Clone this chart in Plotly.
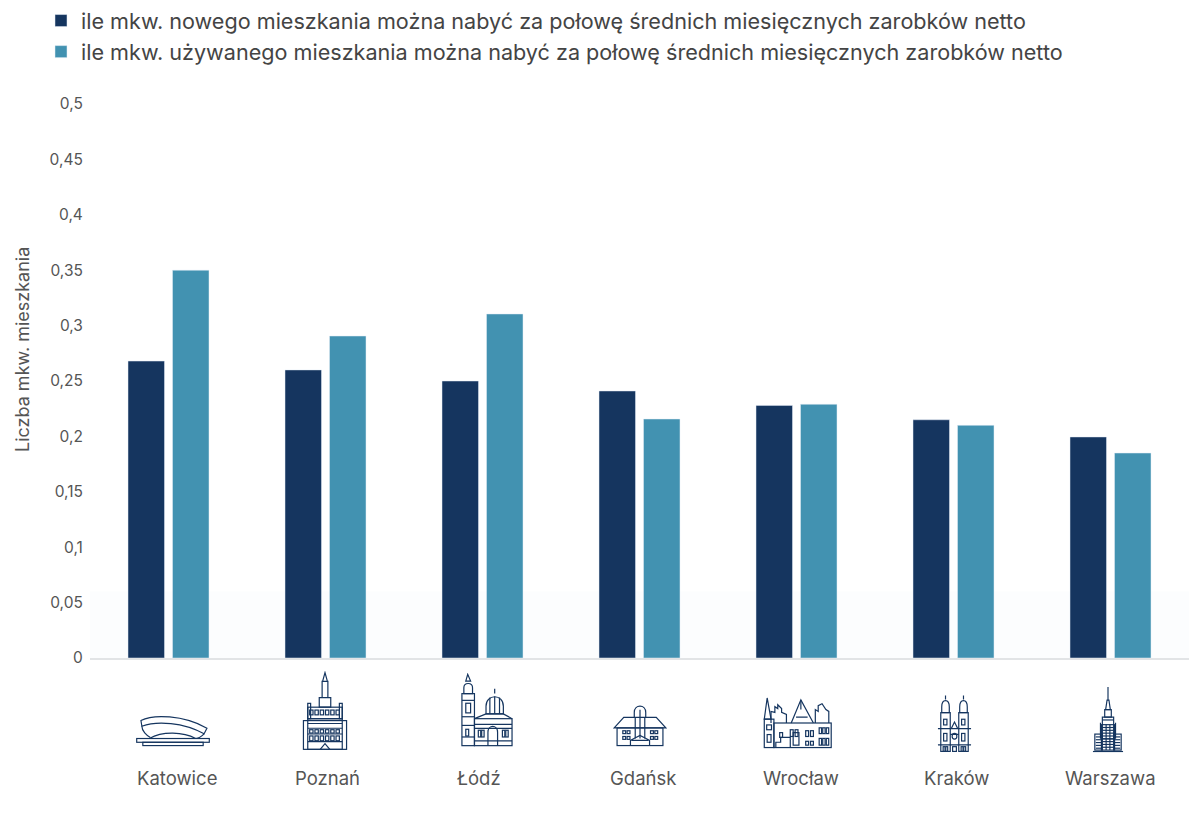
import base64
import plotly.graph_objects as go

cities = ["Katowice", "Poznań", "Łódź", "Gdańsk", "Wrocław", "Kraków", "Warszawa"]
new_flat = [0.268, 0.26, 0.25, 0.241, 0.228, 0.215, 0.1995]
used_flat = [0.35, 0.2906, 0.3105, 0.2157, 0.229, 0.21, 0.185]
y_ticks = [0, 0.05, 0.1, 0.15, 0.2, 0.25, 0.3, 0.35, 0.4, 0.45, 0.5]
y_labels = ["0", "0,05", "0,1", "0,15", "0,2", "0,25", "0,3", "0,35", "0,4", "0,45", "0,5"]
name_new = "ile mkw. nowego mieszkania można nabyć za połowę średnich miesięcznych zarobków netto"
name_used = "ile mkw. używanego mieszkania można nabyć za połowę średnich miesięcznych zarobków netto"
y_title = "Liczba mkw. mieszkania"
label_shift = [8, 2, -4, 3, 4, 3, 0]

W, H = 1200, 813
L, R, T, B = 90, 1189, 104, 658
DARK, TEAL, TXT = "#15355f", "#4292b1", "#555555"
FONT = "Inter"


def windows(x0, y0, n, m, w, h, dx, dy):
    return "".join(
        f'<rect x="{x0+i*dx}" y="{y0+j*dy}" width="{w}" height="{h}"/>'
        for i in range(n) for j in range(m))


def hlines(x0, x1, ys):
    return "".join(f'<path d="M{x0},{y}H{x1}"/>' for y in ys)


ICONS = {
    "kat": ((134, 714, 212, 747),
            '<path d="M5,6C18,-1 50,0 75,14L72,20C50,8 22,6 6,12Z"/>'
            '<path d="M6,12C6,17 11,22 15,24M72,20C69,23 65,25 62,25"/>'
            '<path d="M14,25C28,17 50,18 63,25"/>'
            '<rect x="0.5" y="25" width="77" height="4"/><rect x="7" y="29" width="64" height="3.5"/>'),
    "poz": ((302, 671, 348, 752),
            '<path d="M23,0L20.5,9H25.5ZM20,9H26V26H20ZM17,26H29V36H17Z"/>'
            '<rect x="5" y="36" width="36" height="12"/><rect x="5" y="32" width="3" height="16"/>'
            '<rect x="38" y="32" width="3" height="16"/><rect x="0.5" y="50" width="45" height="30"/>'
            '<rect x="5" y="48" width="36" height="32"/>' + hlines(5, 41, [53, 58, 64, 72])
            + windows(7, 59.5, 6, 1, 3.5, 3.5, 5.5, 0) + windows(7, 66, 6, 1, 3.5, 5, 5.5, 0)
            + windows(7, 39, 6, 1, 3.5, 5, 5.5, 0) + '<path d="M18,80L23,74L28,80"/>'),
    "lod": ((460, 673, 513, 747),
            '<path d="M7,0L5,7H10Z"/><path d="M3,14C3,8 12,8 12,14V20H3Z"/>'
            '<rect x="1" y="20" width="13" height="54"/>' + hlines(1, 14, [27, 44, 53, 65])
            + '<rect x="5" y="30" width="5" height="10"/>'
            '<path d="M26,33C26,20 44,20 44,33V41H26Z"/><path d="M35,20V15M30,24V41M35,23V41M40,24V41"/>'
            '<rect x="14" y="46" width="39" height="28"/><path d="M14,46L26,41H44L53,46"/>'
            + hlines(14, 53, [52, 56, 69]) + windows(18, 58, 2, 1, 2.5, 7, 3.5, 0)
            + windows(43, 58, 2, 1, 2.5, 7, 3.5, 0) + windows(5, 57, 1, 1, 3, 7, 0, 0)
            + '<path d="M28,74V60C28,52 38,52 38,60V74"/>'),
    "gda": ((613, 704, 667, 747),
            '<path d="M0,24L10,13H44L54,24Z"/><path d="M21,13V8C21,-1 33,-1 33,8V13"/>'
            '<path d="M22,13V35M27,5V35M32,13V35"/><rect x="3" y="24" width="48" height="18.5"/>'
            '<path d="M17,42V37L27,32L37,37V42M18,37H36"/>'
            + windows(9, 27, 2, 2, 3, 3, 4.5, 6) + windows(38, 27, 2, 2, 3, 3, 4.5, 6)),
    "wro": ((762, 697, 833, 749),
            '<path d="M4,0L1,22H8Z"/><rect x="1" y="22" width="10" height="29.5"/>'
            '<rect x="3.5" y="28" width="5" height="5"/><rect x="4" y="38" width="4" height="8"/>'
            '<path d="M8,26V14L12,15V9L15,11V7L19,11V15L24,17V26"/>'
            '<path d="M54,26V12L57,14V8L61,6L65,12L68,14V26"/>'
            '<path d="M29,26L39,2L52,26"/><path d="M39,2V12M34,20H46"/>'
            '<rect x="11" y="26" width="59.5" height="25.5"/>'
            + windows(17, 36, 1, 1, 3, 5, 0, 0) + windows(28, 33, 2, 1, 3, 7, 5, 0)
            + windows(44, 34, 2, 1, 3, 6, 5, 0) + windows(58, 31, 3, 1, 2.5, 6, 3.7, 0)
            + windows(44, 45, 2, 1, 3, 4, 5, 0) + windows(58, 42, 3, 1, 2.5, 7, 3.7, 0)
            + '<path d="M13,51V46H18V41H28V51"/><rect x="31" y="36" width="6" height="13"/>'),
    "kra": ((937, 694, 972, 753),
            '<path d="M8,0V4M27,0V4"/><path d="M4,12C4,3 12,3 12,12V18H4Z"/><path d="M23,12C23,3 31,3 31,12V18H23Z"/>'
            '<rect x="3" y="18" width="10" height="41"/><rect x="22" y="18" width="10" height="41"/>'
            '<path d="M0,35H35M0,52H35M13,41H22"/><path d="M14,35L17.5,28L21,35"/>'
            '<ellipse cx="17.5" cy="43" rx="2.5" ry="3"/><rect x="15.5" y="54" width="4" height="5"/>'
            + windows(6, 25, 1, 1, 3.5, 6, 0, 0) + windows(25, 25, 1, 1, 3.5, 6, 0, 0)
            + windows(6, 40, 1, 1, 3.5, 8, 0, 0) + windows(25, 40, 1, 1, 3.5, 8, 0, 0)
            + windows(5.5, 54, 2, 1, 2, 5, 2.8, 0) + windows(24.5, 54, 2, 1, 2, 5, 2.8, 0)),
    "war": ((1092, 685, 1124, 754),
            '<path d="M16,0V14"/><path d="M13.5,24L15,14H17L18.5,24Z"/><rect x="12.5" y="24" width="7" height="8"/>'
            '<path d="M10,32H22V55H10Z"/><path d="M8,38V55M24,38V55"/>'
            '<rect x="2" y="50" width="8" height="17"/><rect x="22" y="50" width="8" height="17"/>'
            '<rect x="9" y="40" width="14" height="27"/><path d="M0,68.5H32"/>'
            + hlines(3, 9, [53, 56, 59, 62, 65]) + hlines(23, 29, [53, 56, 59, 62, 65])
            + hlines(10, 22, [35, 43, 46, 49, 52, 55, 58, 61, 64]) + '<path d="M14,40V67M18,40V67"/>'),
}


def icon_image(box, body):
    x0, y0, x1, y1 = box
    w, h = x1 - x0, y1 - y0
    svg = (f'<svg xmlns="http://www.w3.org/2000/svg" width="{w*4}" height="{h*4}" viewBox="-1 -1 {w+2} {h+2}">'
           f'<g fill="none" stroke="{DARK}" stroke-width="1.25">{body}</g></svg>')
    uri = "data:image/svg+xml;base64," + base64.b64encode(svg.encode()).decode()
    return dict(source=uri, xref="paper", yref="paper",
                x=(x0 - L) / (R - L), y=1 - (y0 - T) / (B - T),
                sizex=w / (R - L), sizey=h / (B - T),
                xanchor="left", yanchor="top", sizing="stretch", layer="above")


city_labels = [dict(x=c, xref="x", y=(B - 778) / (B - T), yref="paper", text=c, showarrow=False,
                    xshift=s, font=dict(size=18.5, color=TXT), xanchor="center", yanchor="middle")
               for c, s in zip(cities, label_shift)]
title_label = dict(x=(22 - L) / (R - L), xref="paper", y=(B - 350) / (B - T), yref="paper",
                   text=y_title, textangle=-90, showarrow=False, font=dict(size=18, color=TXT),
                   xanchor="center", yanchor="middle")

fig = go.Figure()
fig.add_bar(x=cities, y=new_flat, name=name_new, marker_color=DARK, legendgroup="a")
fig.add_bar(x=cities, y=used_flat, name=name_used, marker_color=TEAL, legendgroup="b")

fig.update_layout(
    width=W, height=H,
    margin=dict(l=L, r=W - R, t=T, b=H - B, autoexpand=False),
    paper_bgcolor="white", plot_bgcolor="white",
    font=dict(family=FONT, color=TXT),
    barmode="group", bargap=0.433, bargroupgap=0.18,
    hovermode=False,
    legend=dict(orientation="v", x=41 / W, xref="container", y=1.0, yref="container",
                xanchor="left", yanchor="top", tracegroupgap=2, traceorder="normal",
                font=dict(size=21.6, color="#444444", family=FONT), bgcolor="rgba(0,0,0,0)"),
    xaxis=dict(type="category", showgrid=False, showline=True, linecolor="#e2e4e6", linewidth=1.5,
               showticklabels=False, ticks=""),
    yaxis=dict(range=[0, 0.5], tickvals=y_ticks, ticktext=y_labels, showgrid=False, zeroline=False,
               ticks="outside", ticklen=3, tickcolor="rgba(0,0,0,0)", tickfont=dict(size=15.5, color=TXT)),
    shapes=[dict(type="rect", xref="paper", yref="paper", x0=0, x1=1, y0=0, y1=0.12,
                 fillcolor="#fcfdfe", line_width=0, layer="below")],
    images=[icon_image(*v) for v in ICONS.values()],
    annotations=city_labels + [title_label],
)
fig.write_html("out.html", config={"displayModeBar": False},
               post_script="document.body.style.margin='0';")
